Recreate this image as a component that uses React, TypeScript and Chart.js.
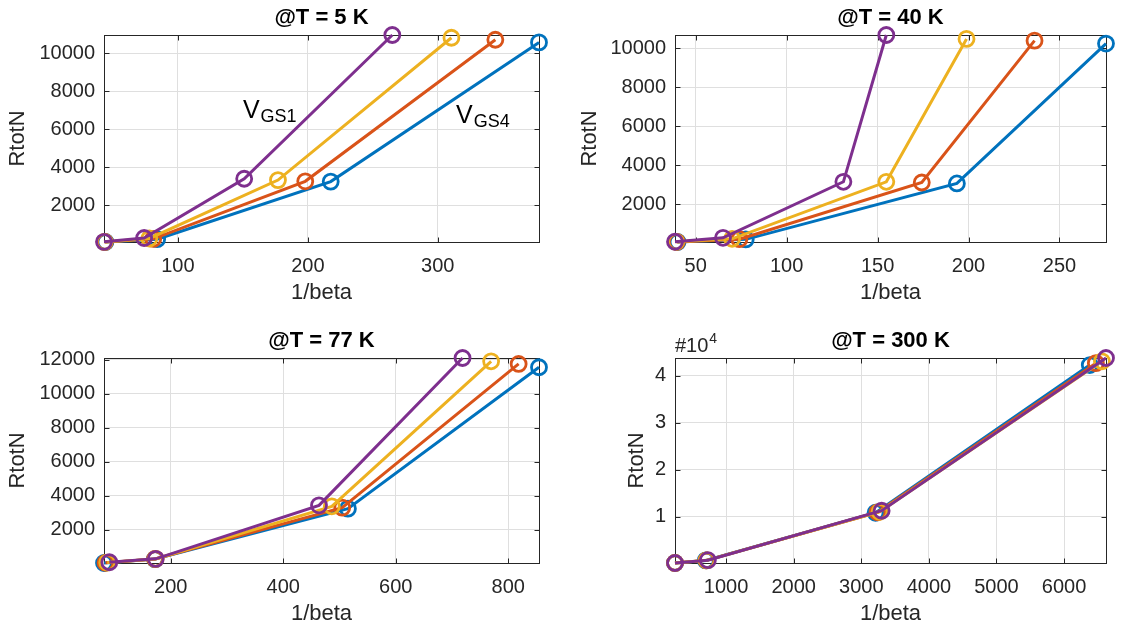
import React, { useEffect, useRef } from "react";
import { Chart, registerables } from "chart.js";

Chart.register(...registerables);

const FONT = '"Liberation Sans", Arial, Helvetica, sans-serif';
const INK = "#262626";
const GRID = "#dfdfdf";

// Series order: VGS4 (drawn first) ... VGS1 (drawn last, on top)
const vgsLabels = ["VGS4", "VGS3", "VGS2", "VGS1"];
const vgsColors = ["#0072BD", "#D95319", "#EDB120", "#7E2F8E"];

// @T = 5 K
const invBeta5K = [
  [44.2, 84, 217.6, 377.9],
  [43.8, 81, 198, 344.3],
  [43.5, 78, 177, 310.5],
  [43.1, 74, 151, 265],
];
const rtot5K = [
  [70, 220, 3250, 10580],
  [72, 235, 3265, 10720],
  [75, 255, 3330, 10825],
  [78, 280, 3400, 10969],
];

// @T = 40 K
const invBeta40K = [
  [40.0, 77.5, 193.6, 275.6],
  [39.6, 74, 174.3, 236.3],
  [39.2, 70, 154.8, 198.9],
  [38.6, 65, 131.2, 154.8],
];
const rtot40K = [
  [55, 190, 3060, 10240],
  [60, 200, 3110, 10390],
  [64, 220, 3145, 10480],
  [68, 270, 3145, 10680],
];

// @T = 77 K
const invBeta77K = [
  [81.3, 172, 514.9, 854.6],
  [84, 172, 504.8, 818.4],
  [87, 173, 486.3, 769.5],
  [90.8, 173.3, 463.5, 718.7],
];
const rtot77K = [
  [45, 275, 3240, 11553],
  [55, 280, 3300, 11747],
  [70, 285, 3377, 11903],
  [90, 290, 3436, 12097],
];

// @T = 300 K
const invBeta300K = [
  [244, 700, 3211, 6380],
  [244, 710, 3240, 6470],
  [244, 715, 3270, 6560],
  [244, 730, 3301, 6620],
];
const rtot300K = [
  [150, 700, 10850, 42300],
  [150, 710, 10950, 42700],
  [150, 720, 11050, 43100],
  [150, 750, 11280, 43800],
];

// Tick values
const ticksX5K = [100, 200, 300];
const ticksY5K = [2000, 4000, 6000, 8000, 10000];
const ticksX40K = [50, 100, 150, 200, 250];
const ticksY40K = [2000, 4000, 6000, 8000, 10000];
const ticksX77K = [200, 400, 600, 800];
const ticksY77K = [2000, 4000, 6000, 8000, 10000, 12000];
const ticksX300K = [1000, 2000, 3000, 4000, 5000, 6000];
const ticksY300K = [10000, 20000, 30000, 40000];

// Text labels placed in data coordinates of the 5 K panel
const notes5K = [
  { main: "V", sub: "GS1", x: 150, y: 6600 },
  { main: "V", sub: "GS4", x: 314, y: 6336 },
];

type Area = { left: number; top: number; right: number; bottom: number };
type Note = { main: string; sub: string; x: number; y: number };

type PanelProps = {
  title: string;
  xs: number[][];
  ys: number[][];
  xTicks: number[];
  yTicks: number[];
  yExp: number;
  notes?: Note[];
  pos: { left: number; top: number; width: number; height: number };
  area: Area;
  yLabelX: number;
};

const crisp = (v: number) => Math.round(v) + 0.5;

function Panel(props: PanelProps) {
  const ref = useRef<HTMLCanvasElement>(null);

  useEffect(() => {
    const { xs, ys, area, pos, xTicks, yTicks, yExp, title, notes, yLabelX } = props;
    const allX = xs.flat();
    const allY = ys.flat();
    const div = Math.pow(10, yExp);

    const datasets = xs.map((row, i) => ({
      label: vgsLabels[i],
      data: row.map((x, j) => ({ x, y: ys[i][j] })),
      borderColor: vgsColors[i],
      backgroundColor: "rgba(0,0,0,0)",
      pointBorderColor: vgsColors[i],
      pointBackgroundColor: "rgba(0,0,0,0)",
      borderWidth: 3,
      pointRadius: 7.5,
      pointHoverRadius: 7.5,
      pointBorderWidth: 2.8,
      showLine: true,
      tension: 0,
      clip: false as const,
      order: xs.length - i,
    }));

    const frame = {
      id: "frame",
      beforeDatasetsDraw(chart: any) {
        const { ctx, chartArea: a, scales } = chart;
        ctx.save();
        ctx.strokeStyle = INK;
        ctx.lineWidth = 1;
        const L = crisp(a.left), R = crisp(a.right), T = crisp(a.top), B = crisp(a.bottom);
        ctx.strokeRect(L, T, R - L, B - T);
        const tl = 5;
        ctx.beginPath();
        xTicks.forEach((v) => {
          const px = crisp(scales.x.getPixelForValue(v));
          ctx.moveTo(px, B);
          ctx.lineTo(px, B - tl);
          ctx.moveTo(px, T);
          ctx.lineTo(px, T + tl);
        });
        yTicks.forEach((v) => {
          const py = crisp(scales.y.getPixelForValue(v));
          ctx.moveTo(L, py);
          ctx.lineTo(L + tl, py);
          ctx.moveTo(R, py);
          ctx.lineTo(R - tl, py);
        });
        ctx.stroke();
        ctx.restore();
      },
      afterDraw(chart: any) {
        const { ctx, chartArea: a, scales } = chart;
        ctx.save();
        // title
        ctx.fillStyle = "#000";
        ctx.font = `bold 22px ${FONT}`;
        ctx.textAlign = "center";
        ctx.textBaseline = "middle";
        ctx.fillText(title, (a.left + a.right) / 2, a.top - 17);
        // axis labels
        ctx.fillStyle = INK;
        ctx.font = `22px ${FONT}`;
        ctx.fillText("1/beta", (a.left + a.right) / 2, a.bottom + 51);
        ctx.save();
        ctx.translate(yLabelX, (a.top + a.bottom) / 2);
        ctx.rotate(-Math.PI / 2);
        ctx.fillText("RtotN", 0, 0);
        ctx.restore();
        // exponent marker
        if (yExp) {
          ctx.textAlign = "left";
          ctx.textBaseline = "alphabetic";
          ctx.font = `20px ${FONT}`;
          const base = "#10";
          ctx.fillText(base, a.left, a.top - 6);
          const w = ctx.measureText(base).width;
          ctx.font = `14px ${FONT}`;
          ctx.fillText(String(yExp), a.left + w + 1, a.top - 15);
        }
        // in-plot text
        (notes || []).forEach((n) => {
          const px = scales.x.getPixelForValue(n.x);
          const py = scales.y.getPixelForValue(n.y);
          ctx.fillStyle = "#000";
          ctx.textAlign = "left";
          ctx.textBaseline = "alphabetic";
          ctx.font = `25px ${FONT}`;
          ctx.fillText(n.main, px, py);
          const w = ctx.measureText(n.main).width;
          ctx.font = `18px ${FONT}`;
          ctx.fillText(n.sub, px + w + 1, py + 4);
        });
        ctx.restore();
      },
    };

    const tickFont = { family: FONT, size: 20 };
    const chart = new Chart(ref.current as HTMLCanvasElement, {
      type: "scatter",
      data: { datasets: datasets as any },
      options: {
        animation: false,
        responsive: false,
        events: [],
        layout: {
          padding: { left: 0, top: area.top, right: pos.width - area.right, bottom: 0 },
        },
        plugins: { legend: { display: false }, tooltip: { enabled: false }, title: { display: false } },
        scales: {
          x: {
            type: "linear",
            min: Math.min(...allX),
            max: Math.max(...allX),
            grid: { color: GRID, lineWidth: 1, drawTicks: false },
            border: { display: false },
            ticks: {
              color: INK,
              font: tickFont,
              padding: 12,
              maxRotation: 0,
              autoSkip: false,
              callback: (v: any) => String(v),
            },
            afterBuildTicks: (s: any) => {
              s.ticks = xTicks.map((v) => ({ value: v }));
            },
            afterFit: (s: any) => {
              s.height = pos.height - area.bottom;
            },
          },
          y: {
            type: "linear",
            min: Math.min(...allY),
            max: Math.max(...allY),
            grid: { color: GRID, lineWidth: 1, drawTicks: false },
            border: { display: false },
            ticks: {
              color: INK,
              font: tickFont,
              padding: 9,
              autoSkip: false,
              callback: (v: any) => String(Math.round((v / div) * 1000) / 1000),
            },
            afterBuildTicks: (s: any) => {
              s.ticks = yTicks.map((v) => ({ value: v }));
            },
            afterFit: (s: any) => {
              s.width = area.left;
            },
          },
        },
      },
      plugins: [frame],
    });
    return () => chart.destroy();
  }, []);

  const { pos } = props;
  return (
    <canvas
      ref={ref}
      width={pos.width}
      height={pos.height}
      style={{ position: "absolute", left: pos.left, top: pos.top, width: pos.width, height: pos.height }}
    />
  );
}

export default function App() {
  const W = 562;
  return (
    <div
      style={{
        position: "absolute",
        left: 0,
        top: 0,
        width: 1124,
        height: 629,
        background: "#fff",
        overflow: "hidden",
      }}
    >
      <Panel
        title="@T = 5 K"
        xs={invBeta5K}
        ys={rtot5K}
        xTicks={ticksX5K}
        yTicks={ticksY5K}
        yExp={0}
        notes={notes5K}
        pos={{ left: 0, top: 0, width: W, height: 314 }}
        area={{ left: 104, top: 35, right: 539, bottom: 242 }}
        yLabelX={18}
      />
      <Panel
        title="@T = 40 K"
        xs={invBeta40K}
        ys={rtot40K}
        xTicks={ticksX40K}
        yTicks={ticksY40K}
        yExp={0}
        pos={{ left: W, top: 0, width: W, height: 314 }}
        area={{ left: 113, top: 35, right: 544, bottom: 242 }}
        yLabelX={28}
      />
      <Panel
        title="@T = 77 K"
        xs={invBeta77K}
        ys={rtot77K}
        xTicks={ticksX77K}
        yTicks={ticksY77K}
        yExp={0}
        pos={{ left: 0, top: 314, width: W, height: 315 }}
        area={{ left: 104, top: 44, right: 539, bottom: 249 }}
        yLabelX={18}
      />
      <Panel
        title="@T = 300 K"
        xs={invBeta300K}
        ys={rtot300K}
        xTicks={ticksX300K}
        yTicks={ticksY300K}
        yExp={4}
        pos={{ left: W, top: 314, width: W, height: 315 }}
        area={{ left: 113, top: 44, right: 544, bottom: 249 }}
        yLabelX={75}
      />
    </div>
  );
}
